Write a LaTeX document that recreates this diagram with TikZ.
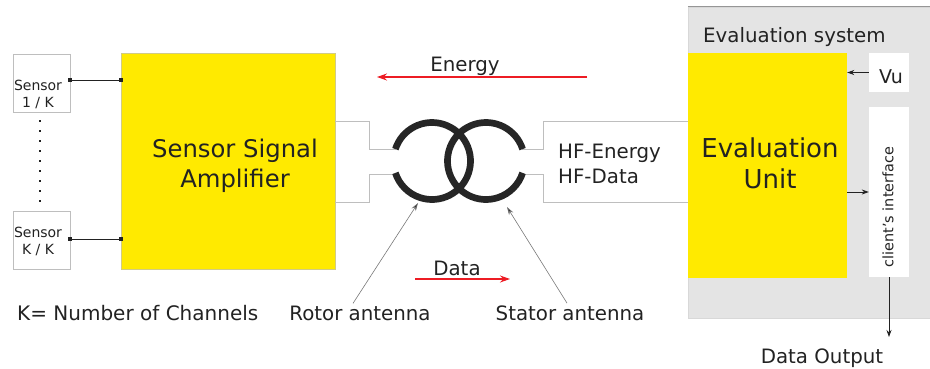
\documentclass[tikz,border=0pt]{standalone}
\usepackage{fontspec}
\setmainfont{DejaVu Sans}
\usetikzlibrary{arrows.meta}
\definecolor{ylw}{RGB}{255,234,0}
\definecolor{txtc}{RGB}{34,34,34}
\definecolor{linec}{RGB}{190,190,190}
\definecolor{redc}{RGB}{237,28,36}
\definecolor{sysgray}{RGB}{228,228,228}
\definecolor{sysedge}{RGB}{150,150,150}
\definecolor{ringc}{RGB}{38,38,38}
\definecolor{antc}{RGB}{120,120,120}
\begin{document}
\begin{tikzpicture}[x=1pt,y=1pt,
  sbox/.style={draw=linec, fill=white, inner sep=0pt, minimum width=57pt, minimum height=58pt},
  ybox/.style={draw=linec!70!ylw, fill=ylw, inner sep=0pt},
  wbox/.style={fill=white, inner sep=0pt, minimum width=40pt},
  t/.style={text=txtc, inner sep=0pt},
  tsmall/.style={t, font=\fontsize{14}{17}\selectfont},
  tmed/.style={t, font=\fontsize{19.8}{24}\selectfont},
  tbig/.style={t, font=\fontsize{24.3}{30}\selectfont},
  tbigger/.style={t, font=\fontsize{26}{31}\selectfont},
  conn/.style={draw=txtc, line width=1pt},
  chan/.style={draw=linec, line width=0.9pt},
  ringstyle/.style={draw=ringc, line width=6.7pt},
  darr/.style={color=txtc, line width=0.8pt, -{Stealth[length=7pt,width=5pt]}},
  redarr/.style={draw=redc, fill=redc, line width=1.1pt, -{Stealth[length=10pt,width=7pt]}},
  antarr/.style={draw=antc, line width=0.6pt, -{Stealth[length=8pt,width=5pt,fill=txtc]}}
]
\useasboundingbox (0,0) rectangle (930,-368);

% Evaluation system background
\node[fill=sysgray, draw=linec!60, inner sep=0pt, minimum width=242pt, minimum height=311pt] (sys) at (809,-162.5) {};
\draw[sysedge, line width=1pt] (sys.north west) -- (sys.north east);
\node[tmed, anchor=base west] (systxt) at (703,-42) {Evaluation system};

% Sensors
\node[sbox] (s1) at (41.5,-83) {};
\node[sbox] (sk) at (41.5,-240) {};
\node[tsmall, anchor=base] (s1a) at (38,-90) {Sensor};
\node[tsmall, anchor=base] (s1b) at (38,-107) {1 / K};
\node[tsmall, anchor=base] (ska) at (38,-237) {Sensor};
\node[tsmall, anchor=base] (skb) at (38,-254) {K / K};
\foreach \i in {0,...,8} \fill[txtc] (39,-120-10*\i) rectangle +(2,-2);

% Amplifier
\node[ybox, minimum width=214pt, minimum height=216pt] (amp) at (228,-161) {};
\node[tbig, anchor=base] (ampa) at (235,-157) {Sensor Signal};
\node[tbig, anchor=base] (ampb) at (235,-187) {Amplifier};

% sensor connections
\draw[conn] ([yshift=3pt]s1.east) -- ([yshift=3pt]s1.east -| amp.west);
\draw[conn] ([yshift=1pt]sk.east) -- ([yshift=1pt]sk.east -| amp.west);
\fill[txtc] ([yshift=3pt]s1.east) ++(-2,-2) rectangle ++(4,4);
\fill[txtc] ([yshift=3pt]s1.east -| amp.west) ++(-2,-2) rectangle ++(4,4);
\fill[txtc] ([yshift=1pt]sk.east) ++(-2,-2) rectangle ++(4,4);
\fill[txtc] ([yshift=1pt]sk.east -| amp.west) ++(-2,-2) rectangle ++(4,4);

% Evaluation unit and side boxes
\node[ybox, draw=none, minimum width=159pt, minimum height=225pt] (eval) at (767.5,-165.5) {};
\node[tbigger, anchor=base] (evala) at (770,-157) {Evaluation};
\node[tbigger, anchor=base] (evalb) at (770,-188) {Unit};
\node[wbox, minimum height=39pt] (vu) at (889,-72.5) {};
\node[t, font=\fontsize{19}{23}\selectfont, anchor=base] (vutxt) at (891,-83) {Vu};
\node[wbox, minimum height=170pt] (client) at (889,-192) {};
\node[tsmall, font=\fontsize{14.4}{17}\selectfont, rotate=90] (clienttxt) at (888,-207) {client's interface};

\draw[darr] (vu.west) -- (vu.west -| eval.east);
\draw[darr] (client.west -| eval.east) -- (client.west);
\coordinate (dout) at (889,-337);
\draw[darr] (client.south) -- (dout);
\node[tmed, anchor=base] (douttxt) at (822,-363) {Data Output};

% channels
\draw[chan] (amp.east |- 0,-121) -- (369,-121) -- (369,-149) -- (396,-149);
\draw[chan] (amp.east |- 0,-202) -- (369,-202) -- (369,-174) -- (396,-174);
\draw[chan] (eval.west |- 0,-121) -- (543,-121) -- (543,-149) -- (522,-149);
\draw[chan] (eval.west |- 0,-202) -- (543,-202) -- (543,-174) -- (522,-174);

% rings
\draw[ringstyle] (432,-161) ++(162:38.5) arc[start angle=162, end angle=-162, radius=38.5];
\draw[ringstyle] (486,-161) ++(18:38.5) arc[start angle=18, end angle=342, radius=38.5];

\node[tmed, anchor=base west] (hfe) at (558,-158) {HF-Energy};
\node[tmed, anchor=base west] (hfd) at (558,-183) {HF-Data};

% energy / data arrows
\node[tmed, anchor=base] (energy) at (465,-71) {Energy};
\coordinate (eA) at (587,-77);
\coordinate (eB) at (377,-77);
\draw[redarr] (eA) -- (eB);
\node[tmed, anchor=base] (data) at (457,-275) {Data};
\coordinate (dA) at (415,-279);
\coordinate (dB) at (510,-279);
\draw[redarr] (dA) -- (dB);

% antenna labels
\node[tmed, anchor=base] (rotor) at (360,-320) {Rotor antenna};
\node[tmed, anchor=base] (stator) at (570,-320) {Stator antenna};
\coordinate (rtip) at (418,-203);
\coordinate (stip) at (507,-207);
\draw[antarr] ([xshift=-7pt,yshift=2pt]rotor.north) -- (rtip);
\draw[antarr] ([xshift=-3pt,yshift=2pt]stator.north) -- (stip);

\node[tmed, font=\fontsize{20}{24}\selectfont, anchor=base west] (kch) at (17,-320) {K= Number of Channels};
\end{tikzpicture}
\end{document}
